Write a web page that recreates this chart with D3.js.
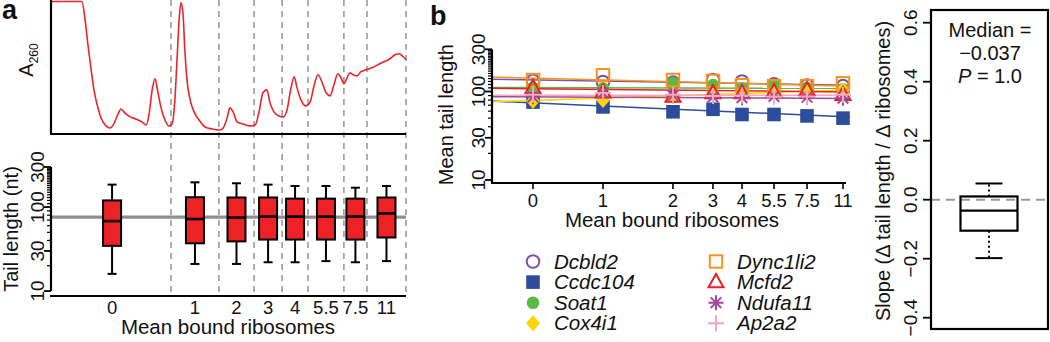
<!DOCTYPE html>
<html>
<head>
<meta charset="utf-8">
<script src="https://cdn.jsdelivr.net/npm/d3@7"></script>
<style>
body { margin: 0; background: #fff; }
svg { display: block; font-family: "Liberation Sans", Arial, Helvetica, sans-serif; }
</style>
</head>
<body>
<script>
// ---- panel a: A260 profile along the gradient (position in %, relative absorbance) ----
const gradientPos = [0, 8.7, 9.6, 10.4, 11.3, 12.1, 13.0, 14.1, 15.5, 16.6, 17.7, 18.9, 19.7, 20.8, 22.3, 23.9, 25.6, 26.8, 27.6, 28.5,
  29.3, 30.1, 31.0, 32.1, 33.2, 34.1, 34.9, 35.5, 36.1, 36.6, 37.2, 37.7, 38.3, 39.2, 40.3, 41.7, 43.4, 45.4, 47.6, 48.5,
  49.6, 50.4, 51.3, 52.4, 54.1, 56.1, 57.5, 58.6, 59.7, 60.8, 61.7, 62.8, 64.2, 65.4, 66.5, 67.6, 68.5, 69.3, 70.4, 71.8,
  73.0, 74.1, 75.2, 76.3, 77.5, 78.6, 79.7, 80.8, 81.7, 82.5, 83.4, 84.2, 85.1, 86.2, 87.3, 88.7, 90.4, 92.1, 93.8, 95.5,
  96.9, 98.0, 99.2, 100];
const a260 = [1.0, 1.0, 0.864, 0.674, 0.485, 0.333, 0.220, 0.121, 0.061, 0.045, 0.076, 0.152, 0.189, 0.159, 0.129, 0.114, 0.091, 0.068, 0.144, 0.333,
  0.417, 0.318, 0.197, 0.106, 0.061, 0.076, 0.258, 0.561, 0.864, 0.992, 0.902, 0.636, 0.409, 0.258, 0.167, 0.106, 0.053, 0.038, 0.030, 0.045,
  0.121, 0.197, 0.167, 0.091, 0.076, 0.061, 0.068, 0.167, 0.311, 0.333, 0.235, 0.167, 0.136, 0.129, 0.182, 0.348, 0.432, 0.348, 0.258, 0.212,
  0.242, 0.364, 0.447, 0.394, 0.311, 0.288, 0.371, 0.455, 0.424, 0.379, 0.424, 0.462, 0.447, 0.439, 0.470, 0.485, 0.500, 0.523, 0.545, 0.568,
  0.598, 0.606, 0.583, 0.561];

// fraction edges along the gradient (%), one pooled fraction per ribosome bin
const fractionEdges = [0.6, 33.8, 47.3, 57.2, 65.1, 72.4, 82.5, 89.0, 100];
const riboLabels = ["0", "1", "2", "3", "4", "5.5", "7.5", "11"];

// tail length distribution per fraction (nt)
const whiskerLo = [16, 21, 21, 22, 22, 22.7, 22, 22.7];
const q1 = [34.5, 37, 39, 41, 41, 41, 41, 43.4];
const medians = [68, 72, 75, 77, 77, 77, 77, 84];
const q3 = [120, 131, 130, 130, 126, 126, 126, 130];
const whiskerHi = [185, 197, 192, 185, 178, 178, 170, 178];
const overallMedian = 76;

// ---- panel b: mean tail length per gene ----
const riboValues = [0, 1, 2, 3, 4, 5.5, 7.5, 11];
const geneNames = ["Dcbld2", "Ccdc104", "Soat1", "Cox4i1", "Dync1li2", "Mcfd2", "Ndufa11", "Ap2a2"];
const dcbld2 = [132, 128, 126, 135, 130, 121, 117, 115];
const ccdc104 = [76, 67, 59, 63, 55, 55, 53, 50];
const soat1 = [110, 108, 125, 118, 108, 118, 110, 106];
const cox4i1 = [78, 80, 88, 95, 98, 100, 102, 104];
const dync1li2 = [135, 153, 135, 132, 118, 115, 115, 124];
const mcfd2 = [110, 98, 88, 96, 96, 99, 104, 92];
const ndufa11 = [87, 96, 90, 87, 85, 88, 86, 84];
const ap2a2 = [92, 96, 92, 89, 90, 87, 88, 92];
// fitted tail length at 0 and 11 ribosomes
const fitAt0 = [135, 74.3, 111, 79.5, 141.5, 107.6, 86.9, 91];
const fitAt11 = [118, 51.9, 108.6, 104, 115, 99, 83.6, 91];

// ---- panel c: slope distribution ----
const slopeBox = [-0.198, -0.105, -0.037, 0.011, 0.055]; // lo whisker, q1, median, q3, hi whisker
const slopeP = "1.0";

const geneSeries = [dcbld2, ccdc104, soat1, cox4i1, dync1li2, mcfd2, ndufa11, ap2a2];
const geneColors = ["#7B55A8", "#2E4C9D", "#5CB947", "#FFD400", "#F7941E", "#EE1C25", "#A3499E", "#F5A8BC"];
const geneShapes = ["circleOpen", "square", "circle", "diamond", "squareOpen", "triangle", "asterisk", "plus"];

const RED = "#EC2227", GREY = "#9a9a9a";

const svg = d3.select("body").append("svg")
  .attr("width", 1050)
  .attr("height", 342);

function label(x, y, s, size, opt) {
  opt = opt || {};
  const t = svg.append("text")
    .attr("transform", "translate(" + x + "," + y + ")" + (opt.rotate ? " rotate(-90)" : ""))
    .attr("text-anchor", opt.anchor || "middle")
    .attr("font-size", size)
    .attr("font-weight", opt.bold ? "bold" : null)
    .attr("font-style", opt.italic ? "italic" : null)
    .attr("fill", "#111")
    .text(s);
  return t;
}

function line(x1, y1, x2, y2, w, color) {
  return svg.append("line")
    .attr("x1", x1).attr("y1", y1).attr("x2", x2).attr("y2", y2)
    .attr("stroke", color || "#000").attr("stroke-width", w || 2);
}

// log axis with rotated labels (R style)
function logAxis(x, scale, topY, botY, labelGap) {
  const g = svg.append("g").attr("transform", "translate(" + x + ",0)");
  const minor = [20, 40, 50, 60, 70, 80, 90];
  for (let v = 110; v < 300; v += 10) minor.push(v);
  g.selectAll(".minor").data(minor).enter().append("line")
    .attr("x1", -4).attr("x2", 0)
    .attr("y1", d => scale(d)).attr("y2", d => scale(d))
    .attr("stroke", "#000").attr("stroke-width", 1.2);
  g.selectAll(".major").data([10, 30, 100, 300]).enter().append("line")
    .attr("x1", -7).attr("x2", 0)
    .attr("y1", d => scale(d)).attr("y2", d => scale(d))
    .attr("stroke", "#000").attr("stroke-width", 1.8);
  g.append("line").attr("x1", 0).attr("x2", 0).attr("y1", topY).attr("y2", botY)
    .attr("stroke", "#000").attr("stroke-width", 2.2);
  [10, 30, 100, 300].forEach(v => label(x - labelGap, scale(v), String(v), 19, {rotate: true}));
}

// ================= panel a =================
const xGrad = d3.scaleLinear().domain([0, 100]).range([51, 406]);
const yA = d3.scaleLinear().domain([0, 1]).range([134, 1.5]);
const yL = d3.scaleLog().domain([10, 300]).range([291, 167]);

// fraction boundaries
fractionEdges.slice(1).forEach(e => {
  line(xGrad(e), 0, xGrad(e), 296, 1.6, GREY).attr("stroke-dasharray", "6,5");
});

// trace
svg.append("clipPath").attr("id", "clipA").append("rect")
  .attr("x", 51).attr("y", 0).attr("width", 356).attr("height", 134);
svg.append("path")
  .datum(d3.zip(gradientPos, a260))
  .attr("clip-path", "url(#clipA)")
  .attr("d", d3.line().x(d => xGrad(d[0])).y(d => yA(d[1])).curve(d3.curveMonotoneX))
  .attr("fill", "none")
  .attr("stroke", "#E8252B")
  .attr("stroke-width", 1.6);
line(51, 0, 51, 134, 2.2);
line(50, 134, 406, 134, 2.2);
label(33, 60, "", 20, {rotate: true}).call(t => {
  t.append("tspan").text("A");
  t.append("tspan").attr("font-size", 12).attr("dy", 5).text("260");
});

// tail length boxes
line(51, yL(overallMedian), 406, yL(overallMedian), 3.2, "#8f8f8f");
const centers = riboLabels.map((d, i) => xGrad((fractionEdges[i] + fractionEdges[i + 1]) / 2));
const boxes = svg.append("g");
riboLabels.forEach((r, i) => {
  const cx = centers[i];
  const g = boxes.append("g");
  g.append("line").attr("x1", cx).attr("x2", cx).attr("y1", yL(whiskerHi[i])).attr("y2", yL(whiskerLo[i]))
    .attr("stroke", "#000").attr("stroke-width", 2);
  [whiskerHi[i], whiskerLo[i]].forEach(v => {
    g.append("line").attr("x1", cx - 4.5).attr("x2", cx + 4.5).attr("y1", yL(v)).attr("y2", yL(v))
      .attr("stroke", "#000").attr("stroke-width", 2);
  });
  g.append("rect")
    .attr("x", cx - 9).attr("width", 18)
    .attr("y", yL(q3[i])).attr("height", yL(q1[i]) - yL(q3[i]))
    .attr("fill", RED).attr("stroke", "#000").attr("stroke-width", 2);
  g.append("line").attr("x1", cx - 9).attr("x2", cx + 9).attr("y1", yL(medians[i])).attr("y2", yL(medians[i]))
    .attr("stroke", "#000").attr("stroke-width", 2.6);
  label(cx, 314, r, 18.5);
});
logAxis(51, yL, 167, 291, 7);
line(50, 296, 406, 296, 2.2);
label(228, 334, "Mean bound ribosomes", 20.5);
label(18, yL(Math.sqrt(10 * 300)), "Tail length (nt)", 20, {rotate: true});
label(2, 19, "a", 27, {bold: true, anchor: "start"});

// ================= panel b =================
const xB = d3.scaleLinear().domain(riboValues).range([533, 603, 673, 713, 742, 774, 807, 843]);
const yB = d3.scaleLog().domain([10, 300]).range([180, 49.3]);
const bLeft = 492, bRight = 850, bBase = 183;

// fitted lines, extended across the plotting region
geneNames.forEach((g, i) => {
  const x0 = xB(0), x1 = xB(11), y0 = yB(fitAt0[i]), y1 = yB(fitAt11[i]);
  const slope = (y1 - y0) / (x1 - x0);
  line(bLeft, y0 + slope * (bLeft - x0), bRight, y0 + slope * (bRight - x0), 1.5, geneColors[i]);
});

function marker(sel, shape, color) {
  const sw = 2;
  if (shape === "circleOpen" || shape === "circle") {
    sel.append("circle").attr("r", 6.3)
      .attr("fill", shape === "circle" ? color : "none")
      .attr("stroke", color).attr("stroke-width", shape === "circle" ? 0 : sw);
  } else if (shape === "square" || shape === "squareOpen") {
    const h = shape === "square" ? 6.8 : 6.2;
    sel.append("rect").attr("x", -h).attr("y", -h).attr("width", 2 * h).attr("height", 2 * h)
      .attr("fill", shape === "square" ? color : "none")
      .attr("stroke", shape === "square" ? "none" : color).attr("stroke-width", sw);
  } else if (shape === "diamond") {
    sel.append("path").attr("d", "M0,-8L7,0L0,8L-7,0Z").attr("fill", color);
  } else if (shape === "triangle") {
    sel.append("path").attr("d", "M0,-8L7.5,5.2L-7.5,5.2Z")
      .attr("fill", "none").attr("stroke", color).attr("stroke-width", sw);
  } else if (shape === "asterisk") {
    sel.append("path").attr("d", "M0,-7.5V7.5M-7.5,0H7.5M-5.3,-5.3L5.3,5.3M-5.3,5.3L5.3,-5.3")
      .attr("stroke", color).attr("stroke-width", sw);
  } else if (shape === "plus") {
    sel.append("path").attr("d", "M0,-8V8M-8,0H8")
      .attr("stroke", color).attr("stroke-width", sw);
  }
}

geneSeries.forEach((vals, i) => {
  const g = svg.append("g");
  g.selectAll("g").data(vals).enter().append("g")
    .attr("transform", (d, j) => "translate(" + xB(riboValues[j]) + "," + yB(d) + ")")
    .each(function () { marker(d3.select(this), geneShapes[i], geneColors[i]); });
});

// axes
logAxis(bLeft, yB, yB(300), bBase, 7);
line(bLeft - 1, bBase, 846, bBase, 2.2);
riboValues.forEach((v, j) => {
  line(xB(v), bBase, xB(v), bBase + 6, 1.6);
  label(xB(v), 207, riboLabels[j], 18.5);
});
label(672, 227, "Mean bound ribosomes", 20.5);
label(453, yB(Math.sqrt(10 * 300)), "Mean tail length", 20, {rotate: true});
label(430, 25, "b", 27, {bold: true, anchor: "start"});

// legend
geneNames.forEach((name, i) => {
  const col = Math.floor(i / 4), row = i % 4;
  const sx = col ? 716 : 533, ty = 261.5 + row * 20.6;
  const g = svg.append("g").attr("transform", "translate(" + sx + "," + ty + ")");
  marker(g, geneShapes[i], geneColors[i]);
  label(sx + 21, ty + 7, name, 20.5, {italic: true, anchor: "start"});
});

// ================= panel c =================
const yC = d3.scaleLinear().domain([-0.4, 0.6]).range([317.7, 22.7]);
const cLeft = 931, cRight = 1048, cTop = 10, cBot = 329, cx = 989;

line(cLeft, yC(0), cRight, yC(0), 2, GREY).attr("stroke-dasharray", "9,6");
// whiskers (dotted) and caps
line(cx, yC(slopeBox[3]), cx, yC(slopeBox[4]), 2).attr("stroke-dasharray", "2,3");
line(cx, yC(slopeBox[1]), cx, yC(slopeBox[0]), 2).attr("stroke-dasharray", "2,3");
line(cx - 13.5, yC(slopeBox[4]), cx + 13.5, yC(slopeBox[4]), 2);
line(cx - 13.5, yC(slopeBox[0]), cx + 13.5, yC(slopeBox[0]), 2);
svg.append("rect")
  .attr("x", cx - 28.5).attr("width", 57)
  .attr("y", yC(slopeBox[3])).attr("height", yC(slopeBox[1]) - yC(slopeBox[3]))
  .attr("fill", "none").attr("stroke", "#000").attr("stroke-width", 2.2);
line(cx - 28.5, yC(slopeBox[2]), cx + 28.5, yC(slopeBox[2]), 2.4);

svg.append("rect")
  .attr("x", cLeft).attr("y", cTop).attr("width", cRight - cLeft).attr("height", cBot - cTop)
  .attr("fill", "none").attr("stroke", "#000").attr("stroke-width", 2.2);
yC.ticks(5).forEach(v => {
  line(cLeft - 8, yC(v), cLeft, yC(v), 1.8);
  label(917, yC(v), d3.format(".1f")(v).replace("-", "\u2212"), 19, {rotate: true});
});
label(890, 171, "Slope (\u0394 tail length / \u0394 ribosomes)", 20, {rotate: true});

label(990, 37, "Median =", 20);
label(990, 60, d3.format(".3f")(slopeBox[2]).replace("-", "\u2212"), 20);
label(990, 83, "", 20).call(t => {
  t.append("tspan").attr("font-style", "italic").text("P");
  t.append("tspan").text(" = " + slopeP);
});
</script>
</body>
</html>
